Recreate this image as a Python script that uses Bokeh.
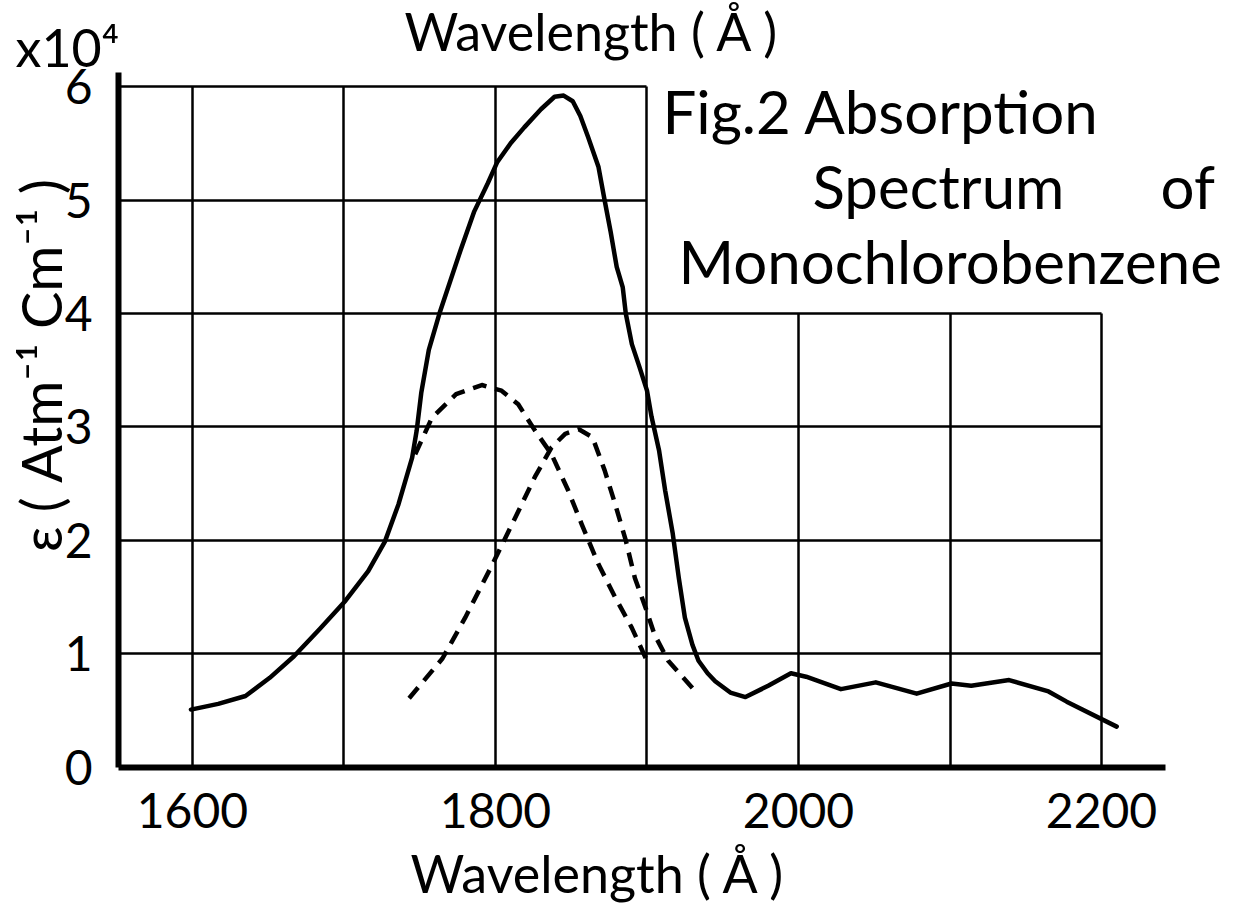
import math
from bokeh.plotting import figure
from bokeh.models import Range1d, LinearAxis, FixedTicker, Grid
from bokeh.core.properties import value
from bokeh.embed import file_html
from bokeh.resources import INLINE

# ---------------- data ----------------
x_grid = [1600, 1700, 1800, 1900, 2000, 2100, 2200]
x_labels = [1600, 1800, 2000, 2200]
y_ticks = [0, 1, 2, 3, 4, 5, 6]

# total absorption (solid), epsilon in units of 1e4
total_wl = [1599, 1617, 1635, 1651, 1667, 1684, 1701, 1716, 1727, 1736, 1745, 1748, 1751,
            1756, 1763, 1777, 1786, 1795, 1801, 1810, 1819, 1830, 1839, 1845, 1851,
            1856, 1861, 1868, 1872, 1876, 1880, 1884, 1886, 1890, 1895, 1900, 1903,
            1908, 1912, 1917, 1921, 1925, 1930, 1934, 1940, 1945, 1955, 1965, 1980,
            1995, 2005, 2028, 2051, 2078, 2101, 2114, 2139, 2165, 2177, 2210]
total_eps = [0.51, 0.56, 0.63, 0.79, 0.98, 1.22, 1.47, 1.73, 1.99, 2.32, 2.73, 2.97, 3.30,
             3.68, 4.00, 4.56, 4.90, 5.15, 5.33, 5.50, 5.64, 5.80, 5.91, 5.92, 5.87,
             5.74, 5.56, 5.29, 5.00, 4.72, 4.41, 4.23, 4.00, 3.73, 3.53, 3.32, 3.09,
             2.79, 2.44, 2.06, 1.67, 1.32, 1.08, 0.94, 0.83, 0.76, 0.66, 0.62, 0.72,
             0.83, 0.80, 0.69, 0.75, 0.65, 0.74, 0.72, 0.77, 0.67, 0.58, 0.36]

# first resolved band (dashed, peak near 1790)
band1_wl = [1747, 1758, 1774, 1791, 1804, 1815, 1826, 1837, 1848, 1857, 1868, 1879, 1890, 1901]
band1_eps = [2.76, 3.08, 3.29, 3.37, 3.32, 3.20, 2.97, 2.76, 2.44, 2.14, 1.79, 1.50, 1.23, 0.91]

# second resolved band (dashed, peak near 1855)
band2_wl = [1743, 1765, 1780, 1798, 1813, 1826, 1837, 1846, 1855, 1864, 1872, 1879,
            1886, 1892, 1899, 1905, 1914, 1930]
band2_eps = [0.61, 0.96, 1.32, 1.79, 2.20, 2.56, 2.82, 2.94, 2.98, 2.91, 2.62, 2.32,
             2.00, 1.67, 1.41, 1.17, 0.94, 0.70]

FONT = value("Lato")

# ---------------- figure ----------------
p = figure(width=1228, height=906,
           x_range=Range1d(1473.3, 2283.8), y_range=Range1d(-1.225, 6.758),
           output_backend="svg", toolbar_location=None,
           x_axis_type=None, y_axis_type=None, min_border=0)
p.outline_line_color = None
p.background_fill_color = "white"

# grid (partial, as in the original drawing)
grid_kw = dict(grid_line_color="black", grid_line_width=2.5, grid_line_alpha=1.0)
p.add_layout(Grid(dimension=0, ticker=FixedTicker(ticks=x_grid[:4]), cross_bounds=(0, 6), **grid_kw))
p.add_layout(Grid(dimension=0, ticker=FixedTicker(ticks=x_grid[4:]), cross_bounds=(0, 4), **grid_kw))
p.add_layout(Grid(dimension=1, ticker=FixedTicker(ticks=y_ticks[1:5]), cross_bounds=(1551.2, 2200), **grid_kw))
p.add_layout(Grid(dimension=1, ticker=FixedTicker(ticks=y_ticks[5:]), cross_bounds=(1551.2, 1900), **grid_kw))

# axes
ax_kw = dict(axis_line_width=6, axis_line_color="black",
             major_tick_line_color=None, minor_tick_line_color=None,
             major_label_text_font="Lato", major_label_text_font_size="48px",
             major_label_text_color="black")
xaxis = LinearAxis(fixed_location=0, bounds=(1551.2, 2242),
                   ticker=FixedTicker(ticks=x_labels), major_label_standoff=20, **ax_kw)
yaxis = LinearAxis(fixed_location=1551.2, bounds=(0, 6.12),
                   ticker=FixedTicker(ticks=y_ticks), major_label_standoff=20, **ax_kw)
p.add_layout(xaxis, "below")
p.add_layout(yaxis, "left")

# curves
p.line(x=total_wl, y=total_eps, line_color="black", line_width=4.5,
       line_join="round", line_cap="round")
p.line(x=band1_wl, y=band1_eps, line_color="black", line_width=4.5,
       line_dash="14 9", line_join="round")
p.line(x=band2_wl, y=band2_eps, line_color="black", line_width=4.5,
       line_dash="14 9", line_join="round")


def ypos(px):
    # vertical screen position (px from top) -> data units
    return (767 - px) / 113.5


# texts
txt_kw = dict(text_font=FONT, text_font_size="60px", text_align="left",
              text_baseline="alphabetic", text_color="black")
p.text(x=[1910.2], y=[ypos(110)], text=["Fig.2  Absorption"], **txt_kw)
p.text(x=[2009.2], y=[ypos(185)], text=["Spectrum"], **txt_kw)
p.text(x=[2239.0], y=[ypos(185)], text=["of"], **txt_kw)
p.text(x=[1920.8], y=[ypos(260)], text=["Monochlorobenzene"], **txt_kw)

# x-axis title (bottom) and title at top
title_kw = dict(text_font=FONT, text_font_size="52px", text_align="center",
                text_baseline="alphabetic", text_color="black")
p.text(x=[1868.0], y=[ypos(873)], text=["Wavelength ( Å )"], **title_kw)
p.text(x=[1864.0], y=[ypos(30)], text=["Wavelength ( Å )"], **title_kw)

# y-axis title and multiplier
p.text(x=[1499.7], y=[ypos(365)], text=["ε ( Atm⁻¹ Cm⁻¹ )"], angle=math.pi / 2,
       text_font=FONT, text_font_size="56px", text_align="center",
       text_baseline="middle", text_color="black")
p.text(x=[1483.2], y=[ypos(46)], text=["x10⁴"], text_font=FONT,
       text_font_size="52px", text_align="left", text_baseline="alphabetic", text_color="black")

open("out.html", "w").write(file_html(p, INLINE))
